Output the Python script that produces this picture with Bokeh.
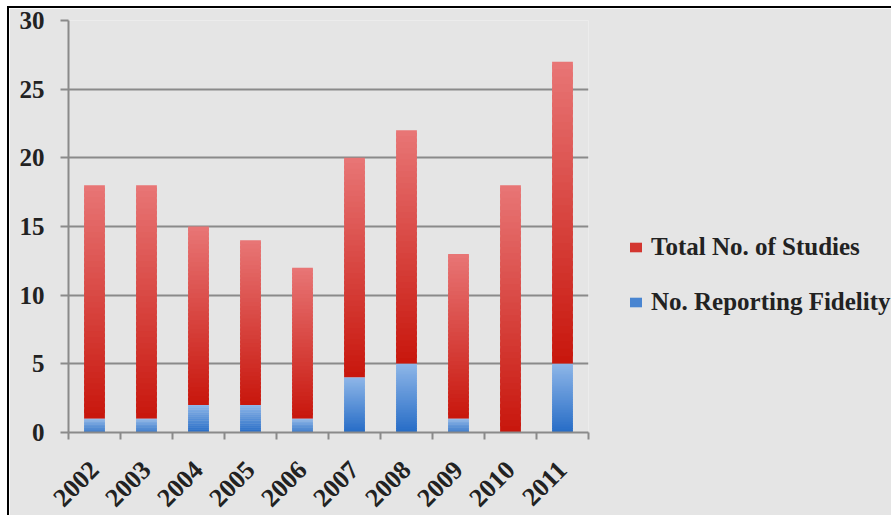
import math
from bokeh.plotting import figure
from bokeh.models import ColumnDataSource, Range1d, FixedTicker, Legend, LegendItem
from bokeh.embed import file_html
from bokeh.resources import INLINE

years = ["2002", "2003", "2004", "2005", "2006", "2007", "2008", "2009", "2010", "2011"]
total_studies = [18, 18, 15, 14, 12, 20, 22, 13, 18, 27]
reporting_fidelity = [1, 1, 2, 2, 1, 4, 5, 1, 0, 5]
y_ticks = [0, 5, 10, 15, 20, 25, 30]

RED_DARK = (200, 22, 12)
RED_LIGHT = (232, 118, 118)
BLUE_DARK = (38, 108, 198)
BLUE_LIGHT = (142, 182, 232)
N_SLICES = 40
BAR_W = 0.4


def mix(c1, c2, t):
    return "#%02x%02x%02x" % tuple(int(round(a + (b - a) * t)) for a, b in zip(c1, c2))


def gradient_source(lows, highs, dark, light):
    xs, bottoms, tops, colors = [], [], [], []
    for i, (lo, hi) in enumerate(zip(lows, highs)):
        if hi <= lo:
            continue
        step = (hi - lo) / N_SLICES
        for k in range(N_SLICES):
            b = lo + step * k
            t = min(hi, b + step * 1.6)
            xs.append(i)
            bottoms.append(b)
            tops.append(t)
            colors.append(mix(dark, light, (k + 0.5) / N_SLICES))
    return ColumnDataSource(dict(x=xs, bottom=bottoms, top=tops, color=colors))


red_src = gradient_source(reporting_fidelity, total_studies, RED_DARK, RED_LIGHT)
blue_src = gradient_source([0] * len(years), reporting_fidelity, BLUE_DARK, BLUE_LIGHT)

BG = "#e5e5e5"
GRID = "#8a8a8a"
FONT = "Liberation Serif"

p = figure(
    width=882, height=509,
    x_range=Range1d(-0.5, len(years) - 0.5),
    y_range=Range1d(0, 30),
    output_backend="svg", toolbar_location=None,
    min_border_left=59, min_border_right=0, min_border_top=12, min_border_bottom=85,
    background_fill_color=BG, border_fill_color=BG,
)
p.styles = {"margin-left": "7px", "margin-top": "6px",
            "border-left": "2px solid black", "border-top": "2px solid black"}
p.outline_line_color = None

r_red = p.vbar(x="x", bottom="bottom", top="top", width=BAR_W, source=red_src,
               fill_color="color", line_color=None)
r_blue = p.vbar(x="x", bottom="bottom", top="top", width=BAR_W, source=blue_src,
                fill_color="color", line_color=None)

# x axis
p.xaxis.ticker = FixedTicker(ticks=list(range(len(years))),
                             minor_ticks=[i - 0.5 for i in range(len(years) + 1)])
p.xaxis.major_label_overrides = {i: y for i, y in enumerate(years)}
p.xaxis.major_label_orientation = math.pi / 4
p.xaxis.major_tick_line_color = None
p.xaxis.minor_tick_in = 0
p.xaxis.minor_tick_out = 7
p.xaxis.minor_tick_line_color = GRID
p.xaxis.minor_tick_line_width = 2
p.xaxis.axis_line_color = GRID
p.xaxis.axis_line_width = 2
p.xaxis.major_label_standoff = 26

# y axis
p.yaxis.ticker = FixedTicker(ticks=y_ticks)
p.yaxis.major_tick_in = 0
p.yaxis.major_tick_out = 8
p.yaxis.major_tick_line_color = GRID
p.yaxis.major_tick_line_width = 2
p.yaxis.minor_tick_line_color = None
p.yaxis.axis_line_color = GRID
p.yaxis.axis_line_width = 2
p.yaxis.major_label_standoff = 16

for ax in (p.xaxis, p.yaxis):
    ax.major_label_text_font = FONT
    ax.major_label_text_font_style = "bold"
    ax.major_label_text_font_size = "25px"
    ax.major_label_text_color = "#222222"
p.xaxis.major_label_text_font_size = "26px"

p.xgrid.grid_line_color = None
p.ygrid.grid_line_color = GRID
p.ygrid.grid_line_width = 2
p.ygrid.ticker = p.yaxis.ticker

legend = Legend(
    items=[
        LegendItem(label="Total No. of Studies", renderers=[r_red], index=N_SLICES // 3),
        LegendItem(label="No. Reporting Fidelity", renderers=[r_blue], index=N_SLICES // 3),
    ],
    location=(40, 116),
    padding=0, margin=0, spacing=27,
    glyph_width=15, glyph_height=12, label_standoff=8, label_height=25,
    label_text_font=FONT, label_text_font_style="bold", label_text_font_size="25px",
    label_text_color="#222222",
    background_fill_alpha=0, border_line_color=None,
)
p.add_layout(legend, "right")
p.frame_width = 520

open("out.html", "w").write(file_html(p, INLINE))
